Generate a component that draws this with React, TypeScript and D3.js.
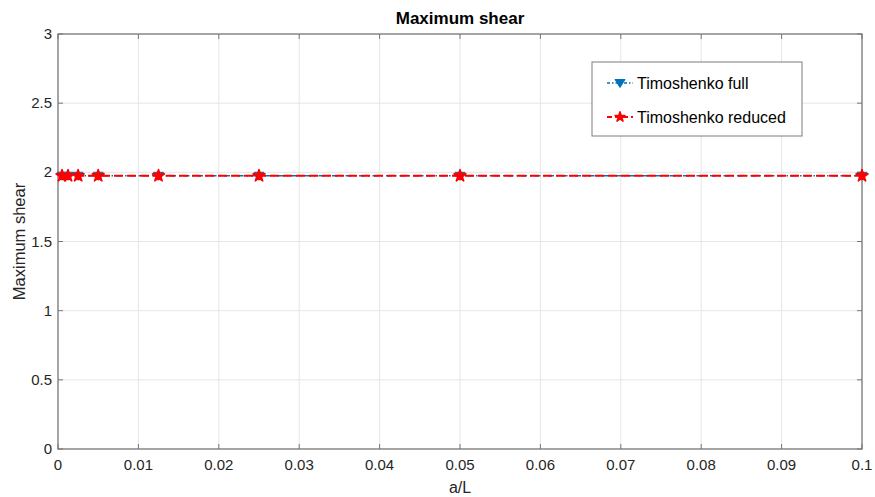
import React from "react";
import * as d3 from "d3";

const xValues = [0.0005, 0.00125, 0.0025, 0.005, 0.0125, 0.025, 0.05, 0.1];
const fullValues = [1.975, 1.975, 1.975, 1.975, 1.975, 1.975, 1.975, 1.975];
const reducedValues = [1.975, 1.975, 1.975, 1.975, 1.975, 1.975, 1.975, 1.975];
const xTicks = [0, 0.01, 0.02, 0.03, 0.04, 0.05, 0.06, 0.07, 0.08, 0.09, 0.1];
const yTicks = [0, 0.5, 1, 1.5, 2, 2.5, 3];
const seriesNames = ["Timoshenko full", "Timoshenko reduced"];

const W = 875, H = 497;
const L = 58, R = 862, T = 34, B = 449;
const BLUE = "#0072BD";
const RED = "#FF0000";
const FONT = "'Liberation Sans', Arial, Helvetica, sans-serif";

function tri(x: number, y: number, s: number) {
  return `M${x - s},${y - s * 0.7}L${x + s},${y - s * 0.7}L${x},${y + s * 0.9}Z`;
}

export default function App() {
  const x = d3.scaleLinear().domain([0, 0.1]).range([L, R]);
  const y = d3.scaleLinear().domain([0, 3]).range([B, T]);
  const line = d3.line<number>().x((_, i) => x(xValues[i])).y((d) => y(d));
  const star = d3.symbol().type(d3.symbolStar).size(45)() || "";
  const fmt = (v: number) => (v === 0 ? "0" : String(+v.toFixed(2)));

  return (
    <svg width={W} height={H} style={{ position: "absolute", left: 0, top: 0, background: "#fff" }} fontFamily={FONT}>
      <rect x={0} y={0} width={W} height={H} fill="#fff" />
      <rect x={L} y={T} width={R - L} height={B - T} fill="#fff" />
      {xTicks.slice(1, -1).map((t) => (
        <line key={"gx" + t} x1={x(t)} x2={x(t)} y1={T} y2={B} stroke="#e6e6e6" strokeWidth={1} />
      ))}
      {yTicks.slice(1, -1).map((t) => (
        <line key={"gy" + t} x1={L} x2={R} y1={y(t)} y2={y(t)} stroke="#e6e6e6" strokeWidth={1} />
      ))}
      <rect x={L} y={T} width={R - L} height={B - T} fill="none" stroke="#262626" strokeOpacity={0.55} strokeWidth={1.5} />
      {xTicks.map((t) => (
        <g key={"tx" + t}>
          <line x1={x(t)} x2={x(t)} y1={B} y2={B - 5} stroke="#777" />
          <line x1={x(t)} x2={x(t)} y1={T} y2={T + 5} stroke="#777" />
          <text x={x(t)} y={B + 21} fontSize={15} fill="#262626" textAnchor="middle">{fmt(t)}</text>
        </g>
      ))}
      {yTicks.map((t) => (
        <g key={"ty" + t}>
          <line x1={L} x2={L + 5} y1={y(t)} y2={y(t)} stroke="#777" />
          <line x1={R} x2={R - 5} y1={y(t)} y2={y(t)} stroke="#777" />
          <text x={L - 6} y={y(t) + 5} fontSize={15} fill="#262626" textAnchor="end">{fmt(t)}</text>
        </g>
      ))}
      <text x={(L + R) / 2} y={24} fontSize={17} fontWeight="bold" textAnchor="middle" fill="#000">Maximum shear</text>
      <text x={(L + R) / 2} y={493} fontSize={16} textAnchor="middle" fill="#262626">a/L</text>
      <text transform={`translate(25,${(T + B) / 2}) rotate(-90)`} fontSize={16.5} textAnchor="middle" fill="#262626">Maximum shear</text>

      <path d={line(fullValues) || ""} fill="none" stroke={BLUE} strokeWidth={1.5} strokeDasharray="6,3,1.5,3" />
      {fullValues.map((v, i) => (
        <path key={"m1" + i} d={tri(x(xValues[i]), y(v), 5)} fill={BLUE} stroke={BLUE} />
      ))}
      <path d={line(reducedValues) || ""} fill="none" stroke={RED} strokeWidth={2} strokeDasharray="9,4" />
      {reducedValues.map((v, i) => (
        <path key={"m2" + i} d={star} transform={`translate(${x(xValues[i])},${y(v)})`} fill={RED} stroke={RED} strokeWidth={1.5} strokeLinejoin="round" />
      ))}

      <rect x={592} y={62} width={210} height={74} fill="#fff" stroke="#262626" strokeOpacity={0.6} strokeWidth={1} />
      <g>
        <line x1={607} x2={633} y1={83} y2={83} stroke={BLUE} strokeWidth={1.5} strokeDasharray="3,2,1.5,2" />
        <path d={tri(620, 83, 5)} fill={BLUE} stroke={BLUE} />
        <text x={637} y={89} fontSize={16} fill="#000">{seriesNames[0]}</text>
      </g>
      <g>
        <line x1={607} x2={633} y1={117} y2={117} stroke={RED} strokeWidth={2} strokeDasharray="5,3" />
        <path d={d3.symbol().type(d3.symbolStar).size(30)() || ""} transform="translate(620,117)" fill={RED} stroke={RED} strokeWidth={1.5} strokeLinejoin="round" />
        <text x={637} y={123} fontSize={16} fill="#000">{seriesNames[1]}</text>
      </g>
    </svg>
  );
}
